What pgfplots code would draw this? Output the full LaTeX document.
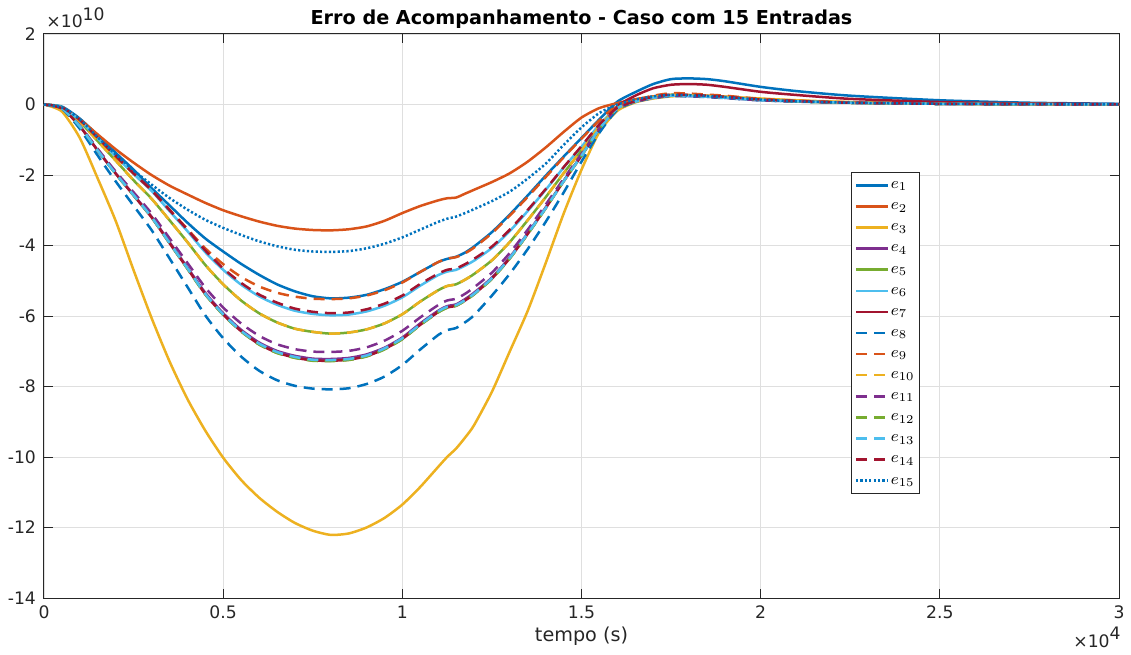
\documentclass[border=0pt]{standalone}
\usepackage{fontspec}
\setmainfont{DejaVu Sans}
\usepackage{pgfplots}
\usepackage{pgfplotstable}
\pgfplotsset{compat=1.18}

% MATLAB default line colours
\definecolor{c1}{rgb}{0,0.447,0.741}
\definecolor{c2}{rgb}{0.850,0.325,0.098}
\definecolor{c3}{rgb}{0.929,0.694,0.125}
\definecolor{c4}{rgb}{0.494,0.184,0.556}
\definecolor{c5}{rgb}{0.466,0.674,0.188}
\definecolor{c6}{rgb}{0.301,0.745,0.933}
\definecolor{c7}{rgb}{0.635,0.078,0.184}
\definecolor{axgray}{rgb}{0.15,0.15,0.15}
\definecolor{gridgray}{rgb}{0.875,0.875,0.875}

% tracking error (units of 1e10) against time (s)
\pgfplotstableread{
t     e1    e2    e3     e4    e5    e6    e7    e8    e9    e10   e11   e12   e13   e14   e15
0     0     0     0      0     0     0     0     0     0     0     0     0     0     0     0
500   -0.06 -0.10 -0.20  -0.11 -0.08 -0.08 -0.11 -0.12 -0.08 -0.08 -0.11 -0.11 -0.11 -0.08 -0.08
1000  -0.40 -0.42 -0.95  -0.61 -0.49 -0.45 -0.62 -0.69 -0.47 -0.49 -0.60 -0.62 -0.62 -0.44 -0.42
1500  -0.88 -0.85 -2.10  -1.30 -1.04 -0.96 -1.31 -1.45 -0.99 -1.04 -1.26 -1.31 -1.31 -0.95 -0.93
2000  -1.37 -1.27 -3.30  -1.95 -1.59 -1.47 -1.96 -2.18 -1.49 -1.59 -1.90 -1.97 -1.96 -1.45 -1.42
2500  -1.85 -1.65 -4.70  -2.56 -2.15 -1.97 -2.58 -2.87 -1.96 -2.15 -2.49 -2.58 -2.57 -1.95 -1.87
3000  -2.37 -2.00 -6.05  -3.18 -2.67 -2.45 -3.20 -3.56 -2.43 -2.67 -3.09 -3.20 -3.19 -2.43 -2.27
3500  -2.86 -2.30 -7.28  -3.90 -3.28 -3.02 -3.93 -4.36 -2.98 -3.28 -3.79 -3.93 -3.92 -2.99 -2.65
4000  -3.35 -2.55 -8.35  -4.62 -3.90 -3.59 -4.65 -5.17 -3.53 -3.90 -4.49 -4.66 -4.64 -3.55 -2.98
4500  -3.80 -2.79 -9.25  -5.34 -4.55 -4.19 -5.38 -5.98 -4.08 -4.55 -5.19 -5.39 -5.37 -4.14 -3.27
5000  -4.17 -3.00 -10.02 -5.92 -5.10 -4.69 -5.96 -6.63 -4.53 -5.10 -5.76 -5.97 -5.95 -4.65 -3.50
5500  -4.52 -3.17 -10.65 -6.39 -5.56 -5.11 -6.43 -7.15 -4.89 -5.56 -6.21 -6.44 -6.42 -5.06 -3.70
6000  -4.83 -3.32 -11.15 -6.75 -5.92 -5.44 -6.80 -7.55 -5.16 -5.92 -6.56 -6.81 -6.78 -5.39 -3.88
6500  -5.10 -3.44 -11.55 -6.99 -6.18 -5.68 -7.04 -7.82 -5.34 -6.18 -6.80 -7.05 -7.02 -5.62 -4.02
7000  -5.30 -3.52 -11.87 -7.13 -6.36 -5.85 -7.18 -7.98 -5.45 -6.36 -6.94 -7.19 -7.16 -5.79 -4.12
7500  -5.44 -3.56 -12.09 -7.21 -6.45 -5.94 -7.26 -8.06 -5.51 -6.45 -7.01 -7.27 -7.24 -5.88 -4.17
8000  -5.50 -3.57 -12.21 -7.22 -6.50 -5.98 -7.27 -8.08 -5.52 -6.50 -7.02 -7.28 -7.25 -5.92 -4.18
8500  -5.48 -3.54 -12.17 -7.19 -6.47 -5.96 -7.24 -8.05 -5.50 -6.47 -6.99 -7.25 -7.22 -5.90 -4.16
9000  -5.40 -3.46 -12.00 -7.09 -6.38 -5.87 -7.14 -7.93 -5.42 -6.38 -6.89 -7.15 -7.12 -5.81 -4.08
9500  -5.24 -3.30 -11.73 -6.90 -6.21 -5.71 -6.94 -7.72 -5.27 -6.21 -6.70 -6.95 -6.92 -5.65 -3.95
10000 -5.03 -3.08 -11.35 -6.61 -5.95 -5.47 -6.65 -7.39 -5.05 -5.95 -6.42 -6.66 -6.63 -5.42 -3.77
10500 -4.75 -2.88 -10.85 -6.21 -5.59 -5.14 -6.25 -6.95 -4.75 -5.59 -6.04 -6.26 -6.24 -5.09 -3.55
11000 -4.47 -2.72 -10.28 -5.85 -5.27 -4.84 -5.89 -6.54 -4.47 -5.27 -5.69 -5.90 -5.87 -4.80 -3.33
11250 -4.38 -2.66 -10.00 -5.72 -5.15 -4.74 -5.76 -6.40 -4.37 -5.15 -5.56 -5.77 -5.74 -4.69 -3.24
11500 -4.32 -2.64 -9.76  -5.67 -5.10 -4.69 -5.71 -6.34 -4.33 -5.10 -5.51 -5.71 -5.69 -4.65 -3.18
11750 -4.20 -2.53 -9.45  -5.52 -4.97 -4.57 -5.56 -6.18 -4.22 -4.97 -5.37 -5.57 -5.55 -4.53 -3.08
12000 -4.03 -2.42 -9.10  -5.34 -4.81 -4.43 -5.38 -5.98 -4.06 -4.81 -5.19 -5.39 -5.37 -4.38 -2.97
12500 -3.62 -2.20 -8.15  -4.91 -4.42 -4.07 -4.94 -5.42 -3.65 -4.42 -4.77 -4.95 -4.93 -4.03 -2.74
13000 -3.12 -1.95 -7.00  -4.33 -3.90 -3.59 -4.36 -4.80 -3.15 -3.90 -4.21 -4.37 -4.35 -3.55 -2.47
13500 -2.58 -1.62 -5.85  -3.65 -3.28 -3.02 -3.67 -4.10 -2.62 -3.28 -3.55 -3.68 -3.66 -2.99 -2.10
14000 -2.02 -1.22 -4.50  -2.92 -2.63 -2.42 -2.94 -3.33 -2.06 -2.63 -2.84 -2.95 -2.94 -2.40 -1.68
14500 -1.48 -0.78 -3.10  -2.17 -1.95 -1.79 -2.18 -2.50 -1.50 -1.95 -2.11 -2.18 -2.18 -1.78 -1.15
15000 -0.95 -0.37 -1.85  -1.44 -1.30 -1.20 -1.45 -1.62 -0.97 -1.30 -1.40 -1.46 -1.45 -1.18 -0.65
15500 -0.42 -0.10 -0.78  -0.69 -0.62 -0.57 -0.69 -0.80 -0.45 -0.62 -0.67 -0.69 -0.69 -0.56 -0.24
16000 0.08  0.04  -0.18  -0.11 -0.10 -0.09 -0.05 -0.15 -0.02 -0.10 -0.10 -0.11 -0.11 -0.09 0.00
16500 0.35  0.15  0.06   0.08  0.08  0.08  0.25  0.07  0.12  0.08  0.08  0.08  0.08  0.09  0.14
17000 0.58  0.23  0.17   0.19  0.21  0.20  0.46  0.18  0.25  0.21  0.19  0.20  0.19  0.22  0.23
17500 0.72  0.27  0.23   0.25  0.27  0.26  0.56  0.24  0.32  0.27  0.25  0.26  0.25  0.28  0.27
18000 0.74  0.27  0.25   0.24  0.26  0.25  0.58  0.23  0.31  0.26  0.24  0.25  0.24  0.27  0.26
18500 0.72  0.25  0.24   0.22  0.24  0.23  0.56  0.21  0.28  0.24  0.22  0.23  0.22  0.25  0.24
19000 0.66  0.22  0.22   0.19  0.21  0.20  0.50  0.18  0.25  0.21  0.19  0.20  0.19  0.22  0.21
20000 0.50  0.15  0.17   0.12  0.14  0.13  0.36  0.12  0.16  0.14  0.12  0.13  0.12  0.14  0.14
21000 0.38  0.10  0.12   0.09  0.09  0.09  0.27  0.08  0.11  0.09  0.09  0.09  0.09  0.10  0.09
22500 0.25  0.06  0.07   0.05  0.05  0.05  0.16  0.05  0.06  0.05  0.05  0.05  0.05  0.05  0.05
25000 0.12  0.02  0.03   0.02  0.02  0.02  0.07  0.02  0.025 0.02  0.02  0.02  0.02  0.02  0.02
27500 0.05  0.01  0.01   0.01  0.01  0.01  0.03  0.01  0.01  0.01  0.01  0.01  0.01  0.01  0.01
30000 0.02  0     0      0     0     0     0.01  0     0     0     0     0     0     0     0
}\errdata

\begin{document}
\begin{tikzpicture}
\begin{axis}[
  name=ax,
  scale only axis,
  width=537.5pt, height=282pt,
  xmin=0, xmax=30000, ymin=-14, ymax=2,
  xtick={0,5000,10000,15000,20000,25000,30000},
  xticklabels={0,0.5,1,1.5,2,2.5,3},
  ytick={-14,-12,-10,-8,-6,-4,-2,0,2},
  yticklabels={-14,-12,-10,-8,-6,-4,-2,0,2},
  scaled ticks=false,
  grid=major,
  major grid style={gridgray, line width=0.45pt},
  axis line style={axgray, line width=0.5pt},
  tick style={axgray, line width=0.5pt},
  tick align=inside,
  major tick length=4.5pt,
  ticklabel style={font=\fontsize{8.6}{10}\selectfont, text=axgray},
  xticklabel style={yshift=-0.5pt},
  yticklabel style={xshift=-0.5pt},
  xlabel={tempo (s)},
  xlabel style={font=\fontsize{9.6}{11}\selectfont, text=axgray,
    at={(0.5,0)}, anchor=base, yshift=-21.5pt},
  every axis plot/.append style={line width=1.25pt, smooth, tension=0.4},
  legend cell align=left,
  legend image code/.code={\draw[#1] (0pt,0pt) -- (16pt,0pt);},
  legend style={at={(0.751,0.755)}, anchor=north west,
    draw=axgray, line width=0.5pt, fill=white,
    font=\fontsize{8}{9}\selectfont,
    inner xsep=1.5pt, inner ysep=2pt, row sep=1.95pt,
    nodes={inner sep=0.8pt, text height=5.2pt, text depth=1.8pt}},
]
\addplot[c1] table[x=t,y=e1] {\errdata};
\addplot[c2] table[x=t,y=e2] {\errdata};
\addplot[c3] table[x=t,y=e3] {\errdata};
\addplot[c4] table[x=t,y=e4] {\errdata};
\addplot[c5] table[x=t,y=e5] {\errdata};
\addplot[c6] table[x=t,y=e6] {\errdata};
\addplot[c7] table[x=t,y=e7] {\errdata};
\addplot[c1, dash pattern=on 5.5pt off 3.5pt] table[x=t,y=e8] {\errdata};
\addplot[c2, dash pattern=on 5.5pt off 3.5pt] table[x=t,y=e9] {\errdata};
\addplot[c3, dash pattern=on 5.5pt off 3.5pt] table[x=t,y=e10] {\errdata};
\addplot[c4, dash pattern=on 5.5pt off 3.5pt] table[x=t,y=e11] {\errdata};
\addplot[c5, dash pattern=on 5.5pt off 3.5pt] table[x=t,y=e12] {\errdata};
\addplot[c6, dash pattern=on 5.5pt off 3.5pt] table[x=t,y=e13] {\errdata};
\addplot[c7, dash pattern=on 5.5pt off 3.5pt] table[x=t,y=e14] {\errdata};
\addplot[c1, dash pattern=on 1.1pt off 1.1pt] table[x=t,y=e15] {\errdata};
\legend{$e_{1}$,$e_{2}$,$e_{3}$,$e_{4}$,$e_{5}$,$e_{6}$,$e_{7}$,$e_{8}$,$e_{9}$,$e_{10}$,$e_{11}$,$e_{12}$,$e_{13}$,$e_{14}$,$e_{15}$}
\end{axis}
% title and axis multipliers
\node[anchor=base, inner sep=0pt, font=\bfseries\fontsize{9.6}{11}\selectfont]
  at ([yshift=4.5pt]ax.north) {Erro de Acompanhamento - Caso com 15 Entradas};
\node[anchor=base west, inner sep=0pt, text=axgray, font=\fontsize{8.6}{10}\selectfont]
  at ([xshift=1pt, yshift=3pt]ax.north west) {×10\raisebox{0.85ex}{10}};
\node[anchor=base east, inner sep=0pt, text=axgray, font=\fontsize{8.6}{10}\selectfont]
  at ([xshift=1pt, yshift=-24.5pt]ax.south east) {×10\raisebox{0.85ex}{4}};
\pgfresetboundingbox
\path[use as bounding box] ([xshift=-22pt, yshift=-28pt]ax.south west) rectangle ([xshift=6pt, yshift=17pt]ax.north east);
\end{tikzpicture}
\end{document}
